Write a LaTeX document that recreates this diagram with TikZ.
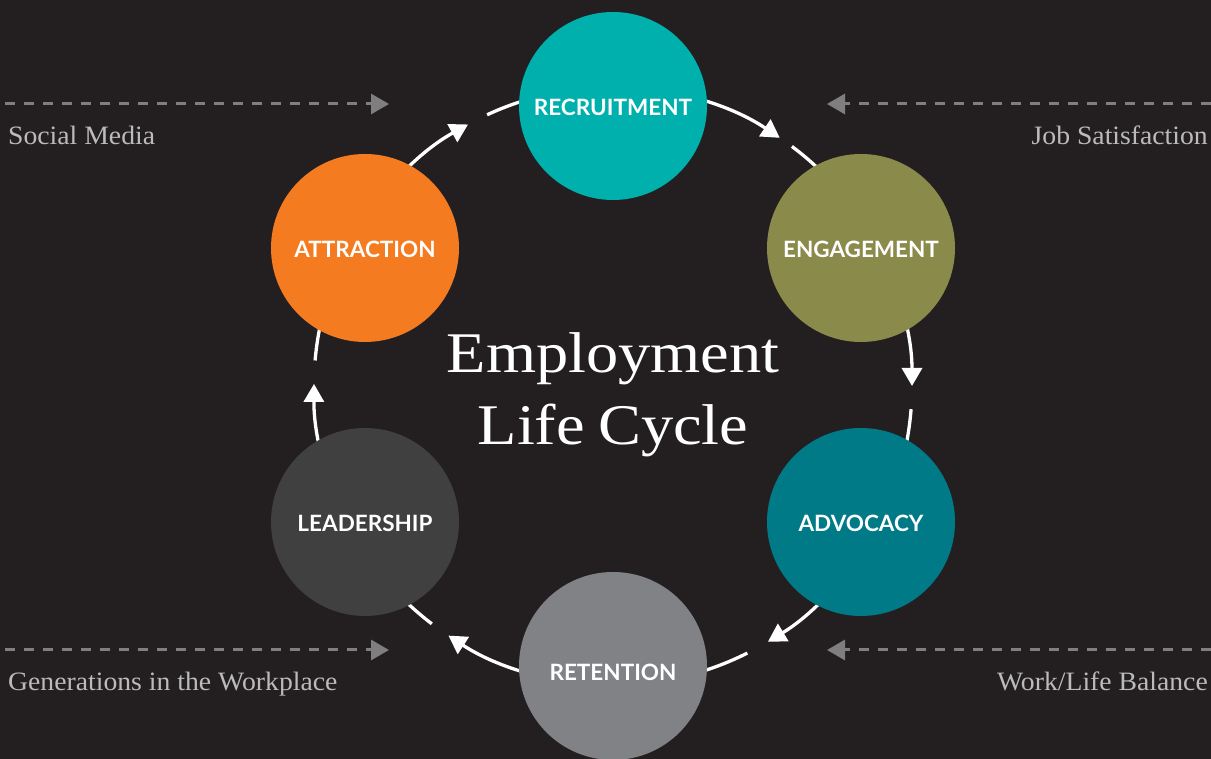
\documentclass[tikz,border=0pt]{standalone}
\usepackage{fontspec}
\setmainfont{Liberation Serif}
\newfontfamily\titlefont[FakeStretch=1.12]{Liberation Serif}
\newfontfamily\sidefont[FakeStretch=1.045]{Liberation Serif}
\newfontfamily\labfont{Lato}
\usetikzlibrary{arrows.meta}
\definecolor{bg}{HTML}{231F20}
\definecolor{cRec}{HTML}{00B0AC}
\definecolor{cEng}{HTML}{8A8B4A}
\definecolor{cAdv}{HTML}{007A87}
\definecolor{cRet}{HTML}{808285}
\definecolor{cLead}{HTML}{404040}
\definecolor{cAttr}{HTML}{F47B20}
\definecolor{dashgray}{HTML}{7F7F7F}
\definecolor{labgray}{HTML}{BBBBBB}
\tikzset{
  stage/.style={circle, minimum size=188pt, inner sep=0pt, text=white,
    text height=20pt, text depth=0pt,
    font={\labfont\bfseries\fontsize{22.5}{24}\selectfont}},
  ring/.style={draw=white, line width=3.3pt},
  tipw/.style={-{Triangle[length=18pt,width=20pt]}},
  side/.style={draw=dashgray, line width=3pt, dash pattern=on 10pt off 9pt,
    -{Triangle[length=18pt,width=20pt,fill=dashgray]}},
  sidelab/.style={text=labgray, font={\sidefont\fontsize{26.5}{30}\selectfont}, inner sep=0pt},
  titlelab/.style={text=white, font={\titlefont\fontsize{57.5}{70}\selectfont}, inner sep=0pt, anchor=base}
}
\begin{document}
\begin{tikzpicture}[x=1pt,y=1pt]
\useasboundingbox (0,0) rectangle (1211,759);
\fill[bg] (0,0) rectangle (1211,759);
\coordinate (C) at (613,373);
% ring arcs (drawn under the circles)
\draw[ring,tipw] (C) ++(90:299) arc[start angle=90, end angle=56.1, radius=299];
\draw[ring] (C) ++(53.25:299) arc[start angle=53.25, end angle=30, radius=299];
\draw[ring,tipw] (C) ++(30:299) arc[start angle=30, end angle=0, radius=299];
\draw[ring] (C) ++(-4.45:299) arc[start angle=-4.45, end angle=-30, radius=299];
\draw[ring,tipw] (C) ++(-30:299) arc[start angle=-30, end angle=-58.8, radius=299];
\draw[ring] (C) ++(-63.3:299) arc[start angle=-63.3, end angle=-90, radius=299];
\draw[ring,tipw] (C) ++(-90:299) arc[start angle=-90, end angle=-123.4, radius=299];
\draw[ring] (C) ++(-127.3:299) arc[start angle=-127.3, end angle=-150, radius=299];
\draw[ring,tipw] (C) ++(210:299) arc[start angle=210, end angle=179.6, radius=299];
\draw[ring] (C) ++(175.1:299) arc[start angle=175.1, end angle=150, radius=299];
\draw[ring,tipw] (C) ++(150:299) arc[start angle=150, end angle=119, radius=299];
\draw[ring] (C) ++(114.9:299) arc[start angle=114.9, end angle=90, radius=299];
% stages
\node[stage, fill=cRec]  (rec)  at (613,653) {RECRUITMENT};
\node[stage, fill=cEng]  (eng)  at (861,511) {ENGAGEMENT};
\node[stage, fill=cAdv]  (adv)  at (861,237) {ADVOCACY};
\node[stage, fill=cRet, text height=30pt]  (ret)  at (613,93)  {RETENTION};
\node[stage, fill=cLead] (lead) at (365,237) {LEADERSHIP};
\node[stage, fill=cAttr] (attr) at (365,511) {ATTRACTION};
% title
\node[titlelab] (t1) at (613,386) {Employment};
\node[titlelab] (t2) at (613,314) {Life\hspace{-3pt} Cycle};
% side influences
\coordinate (smA) at (5,655);    \coordinate (smB) at (389,655);
\coordinate (jsA) at (1211,655); \coordinate (jsB) at (827,655);
\coordinate (gwA) at (5,109);    \coordinate (gwB) at (389,109);
\coordinate (wlA) at (1211,109); \coordinate (wlB) at (827,109);
\draw[side] (smA) -- (smB);
\draw[side] (jsA) -- (jsB);
\draw[side] (gwA) -- (gwB);
\draw[side] (wlA) -- (wlB);
\node[sidelab, anchor=base west] (sm) at (8,614) {Social Media};
\node[sidelab, anchor=base east] (js) at (1208,614) {Job Satisfaction};
\node[sidelab, anchor=base west] (gw) at (8,68) {Generations in the Workplace};
\node[sidelab, anchor=base east] (wl) at (1208,68) {Work/Life Balance};
\end{tikzpicture}
\end{document}
